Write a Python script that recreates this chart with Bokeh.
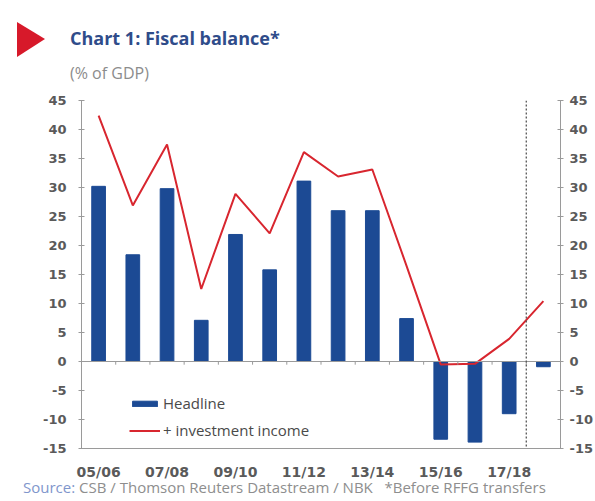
from bokeh.plotting import figure
from bokeh.layouts import column
from bokeh.models import (Range1d, LinearAxis, FixedTicker, Span, PrintfTickFormatter,
                          ColumnDataSource, Div)
from bokeh.embed import file_html
from bokeh.resources import INLINE

# ---------------- data ----------------
categories = ["05/06", "06/07", "07/08", "08/09", "09/10", "10/11", "11/12",
              "12/13", "13/14", "14/15", "15/16", "16/17", "17/18", "18/19"]
headline = [30.2, 18.4, 29.8, 7.1, 21.9, 15.8, 31.1, 26.0, 26.0, 7.4, -13.4, -13.9, -9.0, -0.9]
with_investment = [42.4, 26.9, 37.4, 12.5, 28.9, 22.1, 36.1, 31.9, 33.1, 16.5, -0.5, -0.4, 3.9, 10.4]
y_ticks = [-15, -10, -5, 0, 5, 10, 15, 20, 25, 30, 35, 40, 45]
shown_labels = ["05/06", "07/08", "09/10", "11/12", "13/14", "15/16", "17/18"]
forecast_start = "18/19"

title_text = "Chart 1: Fiscal balance*"
subtitle_text = "(% of GDP)"
source_head = "Source:"
source_text = "CSB / Thomson Reuters Datastream / NBK   *Before RFFG transfers"

# ---------------- styles ----------------
BLUE = "#1c4a94"
RED = "#d8262f"
AXIS = "#9a9a9a"
TICK_TXT = "#5a5a5a"
W = 595
H_TOP, H_MAIN, H_BOT = 88, 394, 19

# ---------------- header (HTML) ----------------
header_html = (
    f'<div style="position:relative;width:{W}px;height:{H_TOP}px;">'
    '<div style="position:absolute;left:17px;top:22px;width:0;height:0;'
    'border-top:17px solid transparent;border-bottom:18px solid transparent;'
    'border-left:28px solid #d7192a;"></div>'
    '<div style="position:absolute;left:70px;top:29px;font-family:\'Open Sans\';'
    'font-weight:bold;font-size:18px;line-height:18px;color:#2f4c8a;white-space:nowrap;">'
    f'{title_text}</div>'
    '<div style="position:absolute;left:70px;top:65px;font-family:\'Open Sans\';'
    'font-size:16px;line-height:16px;color:#8c8c8c;white-space:nowrap;">'
    f'{subtitle_text}</div>'
    '</div>'
)
top = Div(text=header_html, width=W, height=H_TOP, margin=0)

# ---------------- main chart ----------------
n = len(categories)
xs = list(range(n))
p = figure(width=W, height=H_MAIN, x_range=Range1d(-0.5, n - 0.5),
           y_range=Range1d(-15, 45), output_backend="svg", toolbar_location=None,
           min_border_left=81, min_border_top=12, min_border_right=35,
           min_border_bottom=34)
p.outline_line_color = None
p.xgrid.grid_line_color = None
p.ygrid.grid_line_color = None

src = ColumnDataSource(dict(x=xs, cat=categories, head=headline, inv=with_investment))
p.vbar(x="x", top="head", width=0.4, source=src, fill_color=BLUE, line_color=BLUE,
       legend_label="Headline")
p.line(x="x", y="inv", source=src, line_color=RED, line_width=2,
       legend_label="+ investment income")

# zero line with category-boundary ticks
p.add_layout(Span(location=0, dimension="width", line_color=AXIS, line_width=1))
bounds = [i + 0.5 for i in range(n - 1)]
p.segment(x0=bounds, x1=bounds, y0=[0] * len(bounds), y1=[-0.55] * len(bounds),
          line_color=AXIS, line_width=1)

# dashed separator before forecast
p.add_layout(Span(location=categories.index(forecast_start) - 0.5, dimension="height",
                  line_color="#555555", line_dash="2 2", line_width=1.3))

def style_y(ax):
    ax.ticker = FixedTicker(ticks=y_ticks)
    ax.formatter = PrintfTickFormatter(format="%d")
    ax.axis_line_color = AXIS
    ax.major_tick_line_color = AXIS
    ax.minor_tick_line_color = None
    ax.major_tick_in = 3
    ax.major_tick_out = 3
    ax.major_label_text_font = "DejaVu Sans"
    ax.major_label_text_font_style = "bold"
    ax.major_label_text_font_size = "13px"
    ax.major_label_text_color = TICK_TXT

style_y(p.yaxis[0])
p.yaxis[0].major_label_standoff = 12
ry = LinearAxis()
style_y(ry)
ry.major_label_standoff = 6
p.add_layout(ry, "right")

xa = p.xaxis[0]
xa.ticker = FixedTicker(ticks=[categories.index(c) for c in shown_labels])
xa.major_label_overrides = {categories.index(c): c for c in shown_labels}
xa.axis_line_color = AXIS
xa.major_tick_line_color = None
xa.minor_tick_line_color = None
xa.major_tick_in = 0
xa.major_tick_out = 0
xa.major_label_standoff = 15
xa.major_label_text_font = "DejaVu Sans"
xa.major_label_text_font_style = "bold"
xa.major_label_text_font_size = "14px"
xa.major_label_text_color = TICK_TXT

lg = p.legend[0]
lg.location = (48, 8)
lg.padding = 0
lg.margin = 0
lg.spacing = 7
lg.label_height = 20
lg.glyph_height = 7
lg.glyph_width = 31
lg.label_standoff = 3
lg.border_line_color = None
lg.background_fill_alpha = 0
lg.label_text_font = "Open Sans"
lg.label_text_font_size = "15px"
lg.label_text_color = "#4a4a4a"

# ---------------- footer (HTML) ----------------
footer_html = (
    f'<div style="position:relative;width:{W}px;height:{H_BOT}px;">'
    '<div style="position:absolute;left:23px;top:-2px;font-family:\'Open Sans\';'
    'font-size:15px;line-height:15px;white-space:pre;">'
    f'<span style="color:#7f96cc;">{source_head} </span>'
    f'<span style="color:#8e8e8e;">{source_text}</span></div>'
    '</div>'
)
bot = Div(text=footer_html, width=W, height=H_BOT, margin=0)

layout = column(top, p, bot, spacing=0)
open("out.html", "w").write(file_html(layout, INLINE))
